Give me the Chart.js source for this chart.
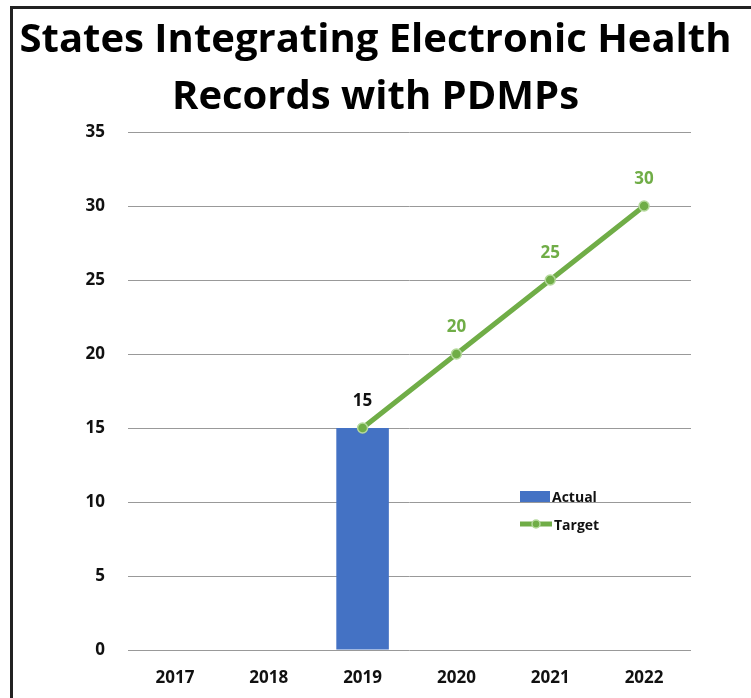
<!DOCTYPE html>
<html>
<head>
<meta charset="utf-8">
<script src="https://cdn.jsdelivr.net/npm/chart.js@4.4.1/dist/chart.umd.min.js"></script>
<style>
  body { margin: 0; background: #fff; }
  #frame { position: absolute; left: 10px; top: 6px; width: 900px; height: 900px; border: 3px solid #222; }
  #wrap { position: absolute; left: 0; top: 0; width: 751px; height: 698px; }
  #legend { position: absolute; left: 520px; top: 482px; font-family: "Open Sans", sans-serif; font-weight: bold; font-size: 14px; color: #111; }
  #legend div { height: 28px; display: flex; align-items: center; }
  .sw { display: inline-block; margin-right: 2px; }
</style>
</head>
<body>
<div id="frame"></div>
<div id="wrap"><canvas id="myChart" width="751" height="698"></canvas></div>
<div id="legend">
  <div><span class="sw" style="width:30px;height:11px;background:#4472C4"></span>Actual</div>
  <div><svg class="sw" width="32" height="12"><line x1="0" y1="6" x2="32" y2="6" stroke="#70AD47" stroke-width="5"/><circle cx="16" cy="6" r="4" fill="#70AD47" stroke="#b5d99c" stroke-width="1.5"/></svg>Target</div>
</div>
<script>
const years = ['2017', '2018', '2019', '2020', '2021', '2022'];
const actual = [null, null, 15, null, null, null];
const target = [null, null, 15, 20, 25, 30];
const yTicks = [0, 5, 10, 15, 20, 25, 30, 35];

// labels above the target points
const pointLabels = {
    id: 'pointLabels',
    afterDatasetsDraw(chart) {
        const ctx = chart.ctx;
        const meta = chart.getDatasetMeta(1);
        ctx.save();
        ctx.font = 'bold 17px "Open Sans", sans-serif';
        ctx.textAlign = 'center';
        ctx.textBaseline = 'middle';
        meta.data.forEach((pt, i) => {
            if (target[i] === null) return;
            ctx.fillStyle = i === 2 ? '#111' : '#70AD47';
            ctx.fillText(String(target[i]), pt.x, pt.y - 27);
        });
        ctx.restore();
    }
};

const tickFont = { family: '"Open Sans", sans-serif', size: 17, weight: 'bold' };

const ctx = document.getElementById('myChart').getContext('2d');
const chart = new Chart(ctx, {
    type: 'bar',
    data: {
        labels: years,
        datasets: [{
            label: 'Actual',
            data: actual,
            backgroundColor: '#4472C4',
            categoryPercentage: 1,
            barPercentage: 0.56,
            order: 2
        }, {
            label: 'Target',
            type: 'line',
            data: target,
            borderColor: '#70AD47',
            borderWidth: 5,
            pointRadius: 5,
            pointBackgroundColor: '#70AD47',
            pointBorderColor: '#b5d99c',
            pointBorderWidth: 1.5,
            spanGaps: false,
            order: 1
        }]
    },
    options: {
        responsive: false,
        animation: false,
        layout: { padding: 0 },
        plugins: {
            legend: { display: false },
            tooltip: { enabled: false },
            title: {
                display: true,
                text: ['States Integrating Electronic Health', 'Records with PDMPs'],
                font: { family: '"Open Sans", sans-serif', size: 40, weight: 'bold', lineHeight: 1.425 },
                color: '#000',
                padding: { top: 12, bottom: 6 }
            }
        },
        scales: {
            x: {
                grid: { display: false },
                border: { display: false },
                ticks: { color: '#111', font: tickFont, padding: 10 },
                afterFit: (axis) => { axis.height = 48; }
            },
            y: {
                min: 0,
                max: 35,
                afterBuildTicks: (axis) => { axis.ticks = yTicks.map(v => ({ value: v })); },
                grid: { color: '#999', drawTicks: false },
                border: { display: false },
                ticks: { color: '#111', font: tickFont, padding: 23 },
                afterFit: (axis) => { axis.width = 128; }
            },
            yRight: {
                position: 'right',
                min: 0,
                max: 35,
                grid: { display: false },
                border: { display: false },
                ticks: { display: false },
                afterFit: (axis) => { axis.width = 60; }
            }
        }
    },
    plugins: [pointLabels]
});
</script>
</body>
</html>
